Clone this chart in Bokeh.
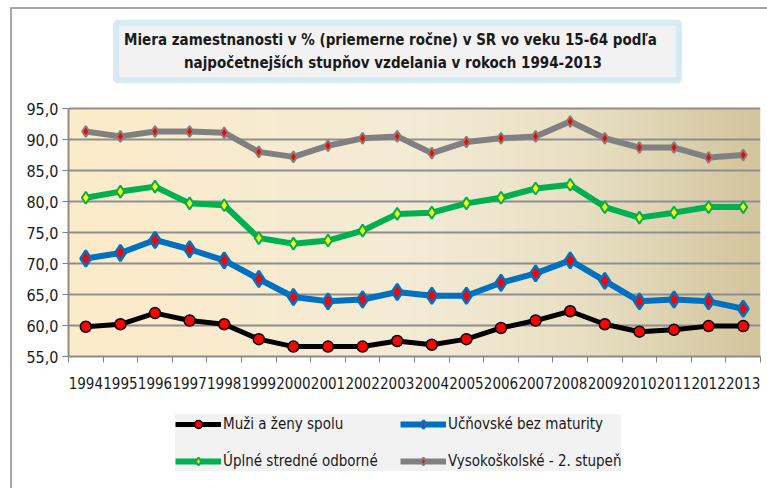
import numpy as np
from bokeh.plotting import figure
from bokeh.layouts import column
from bokeh.models import Range1d, FixedTicker, Label, Legend, LegendItem
from bokeh.embed import file_html
from bokeh.resources import INLINE

# ---- data ----
years = ["1994", "1995", "1996", "1997", "1998", "1999", "2000", "2001", "2002", "2003",
         "2004", "2005", "2006", "2007", "2008", "2009", "2010", "2011", "2012", "2013"]
muzi_zeny = [59.8, 60.2, 62.0, 60.8, 60.2, 57.8, 56.6, 56.6, 56.6, 57.5,
             56.9, 57.8, 59.6, 60.8, 62.3, 60.2, 59.0, 59.3, 59.9, 59.9]
ucnovske = [70.8, 71.7, 73.8, 72.3, 70.5, 67.5, 64.6, 63.9, 64.2, 65.4,
            64.8, 64.8, 66.9, 68.4, 70.5, 67.2, 63.9, 64.2, 63.9, 62.7]
uplne = [80.6, 81.6, 82.4, 79.7, 79.4, 74.1, 73.2, 73.7, 75.3, 78.0,
         78.2, 79.7, 80.6, 82.1, 82.7, 79.1, 77.4, 78.2, 79.1, 79.1]
vysoko = [91.3, 90.5, 91.3, 91.3, 91.1, 88.0, 87.2, 89.0, 90.2, 90.5,
          87.8, 89.6, 90.2, 90.5, 92.9, 90.2, 88.7, 88.7, 87.1, 87.5]
y_ticks = [55, 60, 65, 70, 75, 80, 85, 90, 95]
labels = ["Muži a ženy spolu", "Učňovské bez maturity",
          "Úplné stredné odborné", "Vysokoškolské - 2. stupeň"]
title_text = ("Miera zamestnanosti  v % (priemerne ročne) v SR vo veku  15-64  podľa\n"
              "najpočetnejších  stupňov vzdelania v rokoch  1994-2013")

FONT = "'Liberation Sans Narrow', 'Arial Narrow', 'DejaVu Sans Condensed', sans-serif"

Y_MIN, Y_MAX = 55, 95
Y_TOP = Y_MAX + 108 / 6.2   # extra room above the plot area for the title box

xs = list(range(len(years)))
p = figure(width=767, height=400, output_backend="svg", toolbar_location=None,
           x_range=Range1d(-0.5, len(years) - 0.5), y_range=Range1d(Y_MIN, Y_TOP),
           min_border_left=68, min_border_right=7, min_border_top=0, min_border_bottom=44)
p.background_fill_alpha = 0
p.border_fill_alpha = 0
p.outline_line_color = None

# gradient background of the plot area
stops = [(0.0, (253, 235, 201)), (0.5, (243, 235, 214)), (0.75, (232, 223, 195)), (1.0, (211, 197, 157))]
n = 256
t = np.linspace(0, 1, n)
sp = [s[0] for s in stops]
rgb = np.stack([np.interp(t, sp, [s[1][k] for s in stops]) for k in range(3)], axis=1)
img = np.empty((2, n), dtype=np.uint32)
view = img.view(dtype=np.uint8).reshape((2, n, 4))
for r in range(2):
    view[r, :, 0:3] = rgb.astype(np.uint8)
    view[r, :, 3] = 255
p.image_rgba(image=[img], x=-0.5, y=Y_MIN, dw=len(years), dh=Y_MAX - Y_MIN, level="image")

# axes
p.xaxis.ticker = FixedTicker(ticks=xs, minor_ticks=[i - 0.5 for i in range(len(years) + 1)])
p.xaxis.major_label_overrides = {i: y for i, y in enumerate(years)}
p.xaxis.major_tick_line_color = None
p.xaxis.major_tick_out = 0
p.xaxis.major_tick_in = 0
p.xaxis.minor_tick_line_color = "#808080"
p.xaxis.minor_tick_out = 6
p.xaxis.minor_tick_in = 0
p.xaxis.axis_line_color = "#8c8c8c"
p.xaxis.axis_line_width = 2
p.xaxis.major_label_standoff = 14
p.xaxis.major_label_text_font = FONT
p.xaxis.major_label_text_font_size = "15px"
p.xaxis.major_label_text_color = "#1a1a1a"

p.yaxis.ticker = FixedTicker(ticks=y_ticks)
p.yaxis.bounds = (Y_MIN, Y_MAX)
p.yaxis.major_label_overrides = {v: f"{v},0" for v in y_ticks}
p.yaxis.minor_tick_line_color = None
p.yaxis.major_tick_out = 6
p.yaxis.major_tick_in = 0
p.yaxis.major_tick_line_color = "#808080"
p.yaxis.axis_line_color = "#8c8c8c"
p.yaxis.axis_line_width = 2
p.yaxis.major_label_standoff = 4
p.yaxis.major_label_text_font = FONT
p.yaxis.major_label_text_font_size = "16px"
p.yaxis.major_label_text_color = "#1a1a1a"

p.xgrid.grid_line_color = None
p.ygrid.grid_line_color = "#8e8e8e"
p.ygrid.grid_line_width = 2

# series
all_series = [muzi_zeny, ucnovske, uplne, vysoko]
styles = [
    ("black", 5, "circle", 11, "red", "black", 1.5),
    ("#0070c0", 6, "diamond", 16, "red", "#0070c0", 2.5),
    ("#00b050", 6, "diamond", 12, "yellow", "#00b050", 2),
    ("#808080", 6, "diamond", 11, "red", "#808080", 2),
]
for vals, (col, lw, mk, sz, fc, lc, mlw) in zip(all_series, styles):
    p.line(xs, vals, line_color=col, line_width=lw)
    p.scatter(xs, vals, marker=mk, size=sz, fill_color=fc, line_color=lc, line_width=mlw)

# title box
title = Label(x=9.01, y=104.2, text=title_text, text_align="center", text_baseline="middle",
              text_font=FONT, text_font_size="15px", text_font_style="bold", text_color="#1a1a1a",
              text_line_height=1.3,
              background_fill_color="#f2f2f2", border_line_color="#cfe6ef",
              border_line_width=6, border_line_alpha=0.8, padding=8)
p.add_layout(title)

# legend strip below the chart (same styles as the series; the data lie outside its view)
q = figure(width=767, height=88, output_backend="svg", toolbar_location=None,
           x_range=Range1d(1000, 1001), y_range=Range1d(1000, 1001),
           x_axis_location=None, y_axis_location=None,
           min_border_left=68, min_border_right=7, min_border_top=0, min_border_bottom=0)
q.grid.grid_line_color = None
q.background_fill_alpha = 0
q.border_fill_alpha = 0
q.outline_line_color = None
items = []
for vals, (col, lw, mk, sz, fc, lc, mlw), lab in zip(all_series, styles, labels):
    l = q.line(xs, vals, line_color=col, line_width=lw)
    s = q.scatter(xs, vals, marker=mk, size=sz, fill_color=fc, line_color=lc, line_width=mlw)
    items.append(LegendItem(label=lab, renderers=[l, s]))
legend = Legend(items=items, location=(107, 17), orientation="horizontal", ncols=2,
                background_fill_color="#f2f2f2", background_fill_alpha=1.0,
                border_line_color=None, label_text_font=FONT, label_text_font_size="15px",
                label_text_color="#1a1a1a",
                glyph_width=46, glyph_height=20, label_standoff=2, spacing=17,
                label_width=160, padding=8, margin=0)
q.add_layout(legend)

layout = column(p, q, spacing=0)
layout.styles = {
    "background": ("linear-gradient(#a6a6a6,#a6a6a6) 10px 7px / 2px 100% no-repeat, "
                   "linear-gradient(#a6a6a6,#a6a6a6) 10px 7px / 100% 2px no-repeat, white")
}

open("out.html", "w").write(file_html(layout, INLINE))
